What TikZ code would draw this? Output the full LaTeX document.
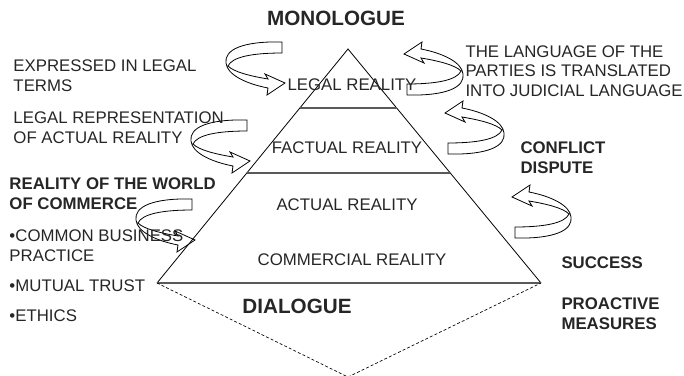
\documentclass[tikz,border=0pt]{standalone}
\usepackage{fontspec}
\setmainfont{Liberation Sans}
\usetikzlibrary{calc}

\tikzset{every picture/.style={line width=0.75pt}}
\tikzset{
  txt/.style={inner sep=0.75pt, font=\fontsize{12.6}{14.4}\selectfont, align=left, text=black!85},
  bold txt/.style={txt, font=\fontsize{12.6}{14.4}\selectfont\bfseries},
  big txt/.style={txt, font=\fontsize{15.5}{18}\selectfont\bfseries},
  level line/.style={draw=black!65, line width=1pt},
  loop arrow/.pic={
    \draw [line width=0.6pt, yscale=-1] (0,0) .. controls (-40,-1) and (-58,8) .. (-56,21) .. controls (-55,33) and (-35,42) .. (-14,46) -- (-15,53) -- (3,41) -- (-17,32) -- (-14,37) .. controls (-32,34) and (-48,30) .. (-54,24) .. controls (-50,15) and (-30,11) .. (0,11) -- cycle ;
  }
}

\begin{document}
\begin{tikzpicture}[x=0.75pt,y=0.75pt,yscale=-1,xscale=1]
	\useasboundingbox (0,0) rectangle (684,375);
	
	%Shape: Pyramid
	\coordinate (apex) at (348,49);
	\coordinate (bl) at (157,283);
	\coordinate (br) at (541,283);
	\coordinate (tip) at (348,377);
	\draw [line width=0.6pt] (bl) -- (apex) -- (br) ;
	\draw [level line] (bl) -- (br) ;
	\draw [level line] ($(apex)!0.252!(bl)$) -- ($(apex)!0.252!(br)$) ;
	\draw [level line] ($(apex)!0.53!(bl)$) -- ($(apex)!0.53!(br)$) ;
	%Shape: lower triangle
	\draw [line width=0.5pt, dash pattern=on 2.2pt off 1.6pt] (bl) -- (tip) -- (br) ;
	
	%Curved arrows left
	\pic at (282,42) {loop arrow};
	\pic at (247,120) {loop arrow};
	\pic at (192,199) {loop arrow};
	%Curved arrows right
	\pic [rotate=180] at (407,95) {loop arrow};
	\pic [rotate=180] at (448,154) {loop arrow};
	\pic [rotate=180] at (515,238) {loop arrow};
	
	% Text Node
	\node [big txt, anchor=base] (monologue) at (336,25) {MONOLOGUE};
	% Text Node
	\node [big txt, anchor=base] (dialogue) at (297,313) {DIALOGUE};
	% Text Node
	\node [txt, anchor=base] (legal) at (352,90) {LEGAL REALITY};
	% Text Node
	\node [txt, anchor=base] (factual) at (347,153) {FACTUAL REALITY};
	% Text Node
	\node [txt, anchor=base] (actual) at (347,210) {ACTUAL REALITY};
	% Text Node
	\node [txt, anchor=base] (commercial) at (352,265) {COMMERCIAL REALITY};
	
	% Text Node
	\node [txt, anchor=base west] (expressed) at (12,91) {EXPRESSED IN LEGAL\\TERMS};
	% Text Node
	\node [txt, anchor=base west] (representation) at (12,143) {LEGAL REPRESENTATION\\OF ACTUAL REALITY};
	% Text Node
	\node [bold txt, anchor=base west] (world) at (8,209) {REALITY OF THE WORLD\\OF COMMERCE};
	% Text Node
	\node [txt, anchor=base west] (practice) at (8,261) {•COMMON BUSINESS\\PRACTICE};
	% Text Node
	\node [txt, anchor=base west] (trust) at (8,291) {•MUTUAL TRUST};
	% Text Node
	\node [txt, anchor=base west] (ethics) at (8,321) {•ETHICS};
	
	% Text Node
	\node [txt, anchor=base west] (language) at (464,96) {THE LANGUAGE OF THE\\PARTIES IS TRANSLATED\\INTO JUDICIAL LANGUAGE};
	% Text Node
	\node [bold txt, anchor=base west] (conflict) at (519,173) {CONFLICT\\DISPUTE};
	% Text Node
	\node [bold txt, anchor=base west] (success) at (560,268) {SUCCESS};
	% Text Node
	\node [bold txt, anchor=base west] (proactive) at (560,329) {PROACTIVE\\MEASURES};
	
\end{tikzpicture}
\end{document}
